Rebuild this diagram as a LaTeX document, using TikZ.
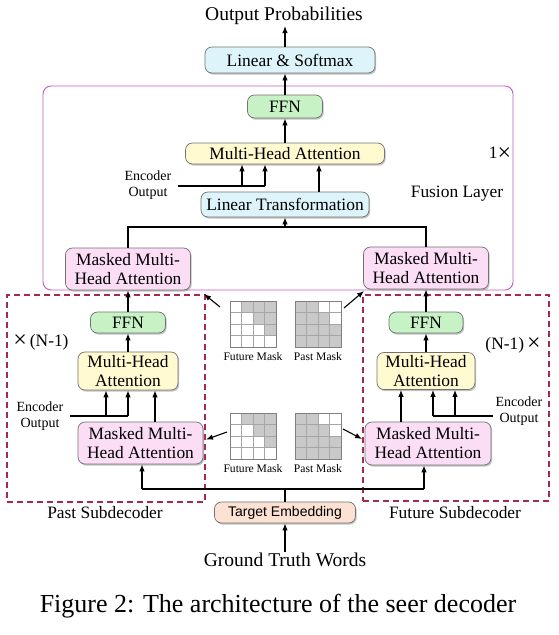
\documentclass[tikz,border=0pt]{standalone}
\usepackage{fontspec}
\setmainfont{Liberation Serif}
\newfontfamily\arialfont{Liberation Sans}
\usetikzlibrary{arrows.meta,shadows}
\definecolor{mpink}{HTML}{FBDDF6}
\definecolor{mgreen}{HTML}{C6F2C6}
\definecolor{myellow}{HTML}{FFFAD0}
\definecolor{mcyan}{HTML}{DDF5FA}
\definecolor{mpeach}{HTML}{FDE2D3}
\definecolor{fusionc}{HTML}{C25BC2}
\definecolor{dashc}{HTML}{A8284C}
\definecolor{cellg}{HTML}{C9C9C9}
\tikzset{
  box/.style={draw=black!55, line width=0.7pt, rounded corners=7pt, inner sep=0pt,
    align=center, font=\fontsize{17.4}{19}\selectfont,
    drop shadow={shadow xshift=1.2pt, shadow yshift=-1.6pt, fill=black!40, opacity=0.6}},
  pinkbox/.style={box, fill=mpink},
  greenbox/.style={box, fill=mgreen},
  yellowbox/.style={box, fill=myellow},
  cyanbox/.style={box, fill=mcyan},
  peachbox/.style={box, fill=mpeach, font=\arialfont\fontsize{14}{16}\selectfont},
  arr/.style={-{Latex[length=7pt,width=5.5pt]}, line width=1.1pt},
  ln/.style={line width=1.1pt},
  bigtext/.style={font=\fontsize{19.5}{22}\selectfont, inner sep=1pt},
  midtext/.style={font=\fontsize{17.4}{19}\selectfont, inner sep=1pt},
  enctext/.style={font=\fontsize{14}{16.5}\selectfont, align=center, inner sep=0pt},
  masktext/.style={font=\fontsize{11.6}{13}\selectfont, inner sep=0pt},
  fusionframe/.style={draw=fusionc, line width=0.9pt, rounded corners=8pt, inner sep=0pt},
  dashframe/.style={draw=dashc, line width=1.2pt, dash pattern=on 6pt off 4pt, inner sep=0pt},
  gridbox/.style={minimum size=46pt, inner sep=0pt},
}
\newcommand{\drawmask}[3]{%
  \foreach \r in {0,1,2,3}{%
    \foreach \c in {0,1,2,3}{%
      \pgfmathtruncatemacro{\g}{#3==0 ? (\c>\r) : (\c-\r<2)}%
      \ifnum\g=1 \def\cf{cellg}\else\def\cf{white}\fi
      \filldraw[fill=\cf, draw=black!35, line width=0.5pt]
        ({#1+\c*11.5},{#2+\r*11.5}) rectangle ++(11.5,11.5);
    }}%
  \draw[black!50, line width=0.6pt] (#1,#2) rectangle ++(46,46);
}
\begin{document}
\begin{tikzpicture}[x=1pt,y=-1pt]
\useasboundingbox[fill=white] (0,0) rectangle (559,635);
% frames
\node[fusionframe, minimum width=470pt, minimum height=204pt] (fusion) at (278,188) {};
\node[dashframe, minimum width=198pt, minimum height=207pt] (pastframe) at (106,398.5) {};
\node[dashframe, minimum width=186pt, minimum height=206pt] (futframe) at (456,398) {};

% texts
\node[bigtext] (outp) at (284,16) {Output Probabilities};
\node[bigtext] (gtw) at (285,560) {Ground Truth Words};
\node[font=\fontsize{26}{28}\selectfont, inner sep=0pt] (cap) at (278,606) {Figure 2: The architecture of the seer decoder};
\node[enctext] (encF) at (148,185) {Encoder\\Output};
\node[enctext] (encL) at (40,416) {Encoder\\Output};
\node[enctext] (encR) at (519,411) {Encoder\\Output};
\node[midtext] (onex) at (500,154) {1\raisebox{-1.5pt}{\fontsize{24}{24}\selectfont ×}};
\node[midtext] (fuslab) at (457,194) {Fusion Layer};
\node[midtext] (nL) at (41,342) {\raisebox{-1.5pt}{\fontsize{24}{24}\selectfont ×}\,(N-1)};
\node[midtext] (nR) at (513,345) {(N-1)\,\raisebox{-1.5pt}{\fontsize{24}{24}\selectfont ×}};
\node[midtext] (pastlab) at (105,513) {Past Subdecoder};
\node[midtext] (futlab) at (455,513) {Future Subdecoder};

% boxes
\node[cyanbox, minimum width=170pt, minimum height=26pt] (lsm) at (290,60) {Linear \& Softmax};
\node[greenbox, minimum width=75pt, minimum height=23pt] (ffnF) at (285,106.5) {FFN};
\node[yellowbox, minimum width=199pt, minimum height=21pt] (mhaF) at (285,153.5) {Multi-Head Attention};
\node[cyanbox, minimum width=168pt, minimum height=25pt] (ltF) at (285,204.5) {Linear Transformation};
\node[pinkbox, minimum width=125pt, minimum height=42pt] (mmL) at (128,269) {Masked Multi-\\Head Attention};
\node[pinkbox, minimum width=125pt, minimum height=42pt] (mmR) at (426,268) {Masked Multi-\\Head Attention};
\node[greenbox, minimum width=75pt, minimum height=21pt] (ffnL) at (128,322.5) {FFN};
\node[yellowbox, minimum width=100pt, minimum height=38pt] (mhaL) at (128,371) {Multi-Head\\Attention};
\node[greenbox, minimum width=74pt, minimum height=21pt] (ffnR) at (426,322.5) {FFN};
\node[yellowbox, minimum width=98pt, minimum height=37pt] (mhaR) at (426,371) {Multi-Head\\Attention};
\node[pinkbox, minimum width=125pt, minimum height=42pt] (mbL) at (140.5,443) {Masked Multi-\\Head Attention};
\node[pinkbox, minimum width=126pt, minimum height=43pt] (mbR) at (428,443.5) {Masked Multi-\\Head Attention};
\node[peachbox, minimum width=141pt, minimum height=21pt] (te) at (285,512.5) {Target Embedding};

% masks
\node[gridbox] (fmU) at (253,324) {};
\node[gridbox] (pmU) at (318,324) {};
\node[gridbox] (fmD) at (253,436) {};
\node[gridbox] (pmD) at (318,436) {};
\drawmask{230}{301}{0}
\drawmask{295}{301}{1}
\drawmask{230}{413}{0}
\drawmask{295}{413}{1}
\node[masktext] (fmUl) at (253,357) {Future Mask};
\node[masktext] (pmUl) at (318,357) {Past Mask};
\node[masktext] (fmDl) at (253,469) {Future Mask};
\node[masktext] (pmDl) at (318,469) {Past Mask};

% mask arrows
\coordinate (aUL1) at (220,307); \coordinate (aUL2) at (204,294);
\coordinate (aUR1) at (344,308); \coordinate (aUR2) at (364,291);
\coordinate (aDL1) at (227,432); \coordinate (aDL2) at (206,439.5);
\coordinate (aDR1) at (343,429); \coordinate (aDR2) at (362,439);
\draw[arr] (aUL1) -- (aUL2);
\draw[arr] (aUR1) -- (aUR2);
\draw[arr] (aDL1) -- (aDL2);
\draw[arr] (aDR1) -- (aDR2);

% top part
\draw[arr] (ffnF.north) -- (ffnF.north |- lsm.south);
\draw[arr] (ffnF.north |- lsm.north) -- (ffnF.north |- outp.south);
\draw[arr] (mhaF.north) -- (ffnF.south);
\coordinate (eF0) at (178,186); \coordinate (eF1) at (242,186); \coordinate (eF2) at (265,186);
\coordinate (xF3) at (319,0);
\draw[ln] (eF0) -- (eF2);
\draw[arr] (eF1) -- (eF1 |- mhaF.south);
\draw[arr] (eF2) -- (eF2 |- mhaF.south);
\draw[arr] (ltF.north -| xF3) -- (mhaF.south -| xF3);
\coordinate (fj) at (285,227);
\draw[ln] (mmL.north) |- (fj) -| (mmR.north);
\draw[arr] (fj) -- (ltF.south);

% left subdecoder
\draw[arr] (ffnL.north) -- (mmL.south);
\draw[arr] (mhaL.north) -- (ffnL.south);
\coordinate (eL0) at (70,416); \coordinate (eL1) at (106,416); \coordinate (eL2) at (128,416);
\coordinate (xL3) at (155,0);
\draw[ln] (eL0) -- (eL2);
\draw[arr] (eL1) -- (eL1 |- mhaL.south);
\draw[arr] (eL2) -- (eL2 |- mhaL.south);
\draw[arr] (mbL.north -| xL3) -- (mhaL.south -| xL3);

% right subdecoder
\draw[arr] (ffnR.north) -- (mmR.south);
\draw[arr] (mhaR.north) -- (ffnR.south);
\coordinate (eR0) at (493,416); \coordinate (eR1) at (455,416); \coordinate (eR2) at (433,416);
\coordinate (xR3) at (401,0);
\draw[ln] (eR0) -- (eR2);
\draw[arr] (eR1) -- (eR1 |- mhaR.south);
\draw[arr] (eR2) -- (eR2 |- mhaR.south);
\draw[arr] (mbR.north -| xR3) -- (mhaR.south -| xR3);

% bottom
\coordinate (bj) at (285,489); \coordinate (bL) at (142,489); \coordinate (bR) at (424,489);
\draw[ln] (te.north) -- (bj);
\draw[ln] (bL) -- (bR);
\draw[arr] (bL) -- (bL |- mbL.south);
\draw[arr] (bR) -- (bR |- mbR.south);
\draw[arr] (gtw.north) -- (te.south);
\end{tikzpicture}
\end{document}
